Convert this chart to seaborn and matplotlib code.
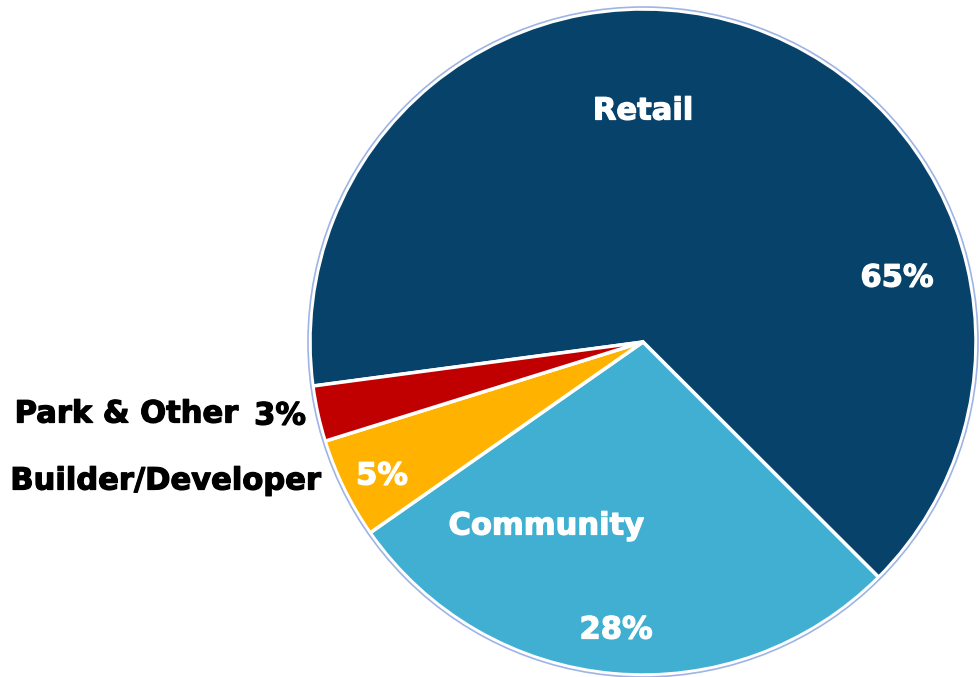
import matplotlib
matplotlib.use("Agg")
import matplotlib.pyplot as plt
import matplotlib.patheffects as pe
import seaborn as sns
from matplotlib.patches import Circle

# data
categories = ["Retail", "Community", "Builder/Developer", "Park & Other"]
shares = [64.6, 27.8, 4.9, 2.7]
colors = ["#07426B", "#41AFD1", "#FFB300", "#C00000"]

sns.set_theme(style="white")
plt.rcParams["font.family"] = ["DejaVu Sans"]

fig = plt.figure(figsize=(9.8, 6.77), dpi=100)
# pie centre at (643, 342) px, radius 333 px
R = 333
pad = 10
ax = fig.add_axes([(643 - R - pad) / 980, (677 - 342 - R - pad) / 677,
                   2 * (R + pad) / 980, 2 * (R + pad) / 677])

wedges, _ = ax.pie(shares, colors=colors, startangle=187.6, counterclock=False,
                   wedgeprops=dict(edgecolor="white", linewidth=2.5))
lim = (R + pad) / R
ax.set_xlim(-lim, lim)
ax.set_ylim(-lim, lim)
ax.set_aspect("equal")
ax.add_patch(Circle((0, 0), 1.006, fill=False, edgecolor="#9FB4E6", linewidth=1.2))


def px(x, y):
    return (x - 643) / R, (342 - y) / R


def label(x, y, s, color):
    t = ax.text(*px(x, y), s, color=color, fontsize=22, fontweight="bold",
                ha="center", va="center")
    t.set_path_effects([pe.withStroke(linewidth=0.9, foreground=color)])


pct = [f"{round(s)}%" for s in shares]

label(643, 111, categories[0], "white")
label(897, 278, pct[0], "white")
label(546, 526, categories[1], "white")
label(616, 630, pct[1], "white")
label(382, 476, pct[2], "white")
label(165, 481, categories[2], "black")
label(126, 414, categories[3], "black")
label(280, 416, pct[3], "black")

fig.savefig("out.png", dpi=100)
